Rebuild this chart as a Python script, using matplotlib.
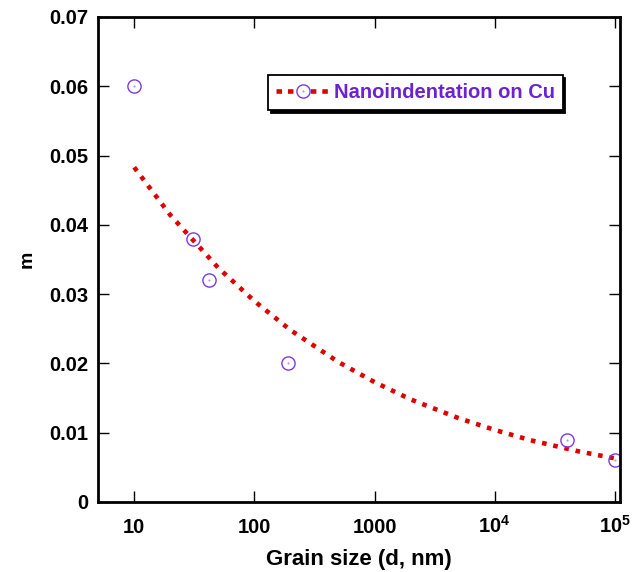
import matplotlib.pyplot as plt
import matplotlib as mpl
from matplotlib.lines import Line2D
from matplotlib.legend_handler import HandlerTuple

mpl.rcParams['font.family'] = 'Liberation Sans'
mpl.rcParams['font.weight'] = 'bold'
mpl.rcParams['mathtext.fontset'] = 'custom'
mpl.rcParams['mathtext.bf'] = 'Liberation Sans:bold'
mpl.rcParams['mathtext.rm'] = 'Liberation Sans:bold'

# measured points
grain_size = [10, 31, 42, 190, 40000, 100000]
m_values = [0.060, 0.038, 0.032, 0.020, 0.009, 0.006]

# dotted trend curve
fit_d = [10, 20, 50, 100, 200, 500, 1000, 2000, 5000, 10000, 20000, 50000, 100000]
fit_m = [0.0483, 0.0414, 0.0338, 0.0290, 0.0248, 0.0202, 0.0173, 0.0148,
         0.0121, 0.0104, 0.0089, 0.0073, 0.0063]

xticks = [10, 100, 1000, 1e4, 1e5]
xticklabels = ['10', '100', '1000', r'$\mathbf{10^{4}}$', r'$\mathbf{10^{5}}$']
yticks = [0, 0.01, 0.02, 0.03, 0.04, 0.05, 0.06, 0.07]
yticklabels = ['0', '0.01', '0.02', '0.03', '0.04', '0.05', '0.06', '0.07']

red = '#e00000'
purple = '#7a3ae6'
text_purple = '#6a22d4'

fig = plt.figure(figsize=(6.38, 5.72), dpi=100)
ax = fig.add_axes([0.1536, 0.1224, 0.818, 0.848])

ax.plot(fit_d, fit_m, color=red, lw=3.3, linestyle=(0, (1, 1.5)),
        dash_capstyle='butt')
ax.plot(grain_size, m_values, linestyle='none', marker='o', ms=9.5,
        mfc='none', mec=purple, mew=1.0)
ax.plot(grain_size, m_values, linestyle='none', marker='.', ms=1.0,
        color=purple, alpha=0.6)

ax.set_xscale('log')
ax.set_xlim(5, 1.1e5)
ax.set_ylim(0, 0.07)
ax.set_xticks(xticks)
ax.set_xticklabels(xticklabels)
ax.xaxis.set_minor_locator(mpl.ticker.NullLocator())
ax.set_yticks(yticks)
ax.set_yticklabels(yticklabels)

ax.tick_params(direction='in', length=8, width=1, top=True, right=True,
               labelsize=14.5)
ax.tick_params(axis='y', pad=7)
ax.tick_params(axis='x', pad=22)
for lab in ax.get_xticklabels():
    lab.set_verticalalignment('baseline')
for s in ax.spines.values():
    s.set_linewidth(2)

ax.set_xlabel('Grain size (d, nm)', fontsize=16, fontweight='bold', labelpad=9)
ax.set_ylabel('m', fontsize=14, fontweight='bold', labelpad=10)

h_line = Line2D([], [], color=red, lw=3.3, linestyle=(0, (1.2, 1.3)),
                dash_capstyle='butt', marker='o', ms=9.5, mfc='white',
                mec=purple, mew=1.0)
h_dot = Line2D([], [], linestyle='none', marker='.', ms=1.0, color=purple,
               alpha=0.6)
leg = ax.legend([(h_line, h_dot)], ['Nanoindentation on Cu'],
                handler_map={tuple: HandlerTuple(ndivide=1)},
                loc='upper left', bbox_to_anchor=(0.326, 0.880),
                borderaxespad=0, fancybox=False, handlelength=2.65,
                handletextpad=0.2, borderpad=0.4,
                shadow={'color': 'black', 'alpha': 1},
                prop={'weight': 'bold', 'size': 14.5})
leg.get_frame().set_edgecolor('black')
leg.get_frame().set_linewidth(1.3)
for t in leg.get_texts():
    t.set_color(text_purple)

fig.savefig('out.png', dpi=100)
